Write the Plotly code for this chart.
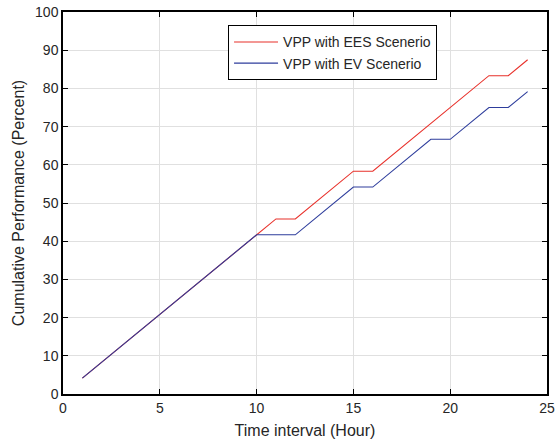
import plotly.graph_objects as go

hours = list(range(1, 25))
ees = [4.17, 8.33, 12.5, 16.67, 20.83, 25.0, 29.17, 33.33, 37.5, 41.67,
       45.83, 45.83, 50.0, 54.17, 58.33, 58.33, 62.5, 66.67, 70.83, 75.0,
       79.17, 83.33, 83.33, 87.5]
ev = [4.17, 8.33, 12.5, 16.67, 20.83, 25.0, 29.17, 33.33, 37.5, 41.67,
      41.67, 41.67, 45.83, 50.0, 54.17, 54.17, 58.33, 62.5, 66.67, 66.67,
      70.83, 75.0, 75.0, 79.17]
names = ["VPP with EES Scenerio", "VPP with EV Scenerio"]
xticks = [0, 5, 10, 15, 20, 25]
yticks = list(range(0, 101, 10))

FONT = "Liberation Sans, Arial"
fig = go.Figure()
fig.add_trace(go.Scatter(x=hours, y=ees, mode="lines", name=names[0],
                         line=dict(color="#e8302a", width=1.1)))
fig.add_trace(go.Scatter(x=hours, y=ev, mode="lines", name=names[1],
                         line=dict(color="#2e3d9c", width=1.1)))

axis_common = dict(showline=True, linecolor="black", linewidth=1.5, mirror="allticks",
                   ticks="inside", ticklen=5, tickcolor="black", tickwidth=1,
                   showgrid=True, gridcolor="#e0e0e0", gridwidth=1, zeroline=False,
                   automargin=False,
                   tickfont=dict(family=FONT, size=14, color="#262626"))
fig.update_xaxes(range=[0, 25], tickvals=xticks,
                 title=dict(text="Time interval (Hour)", standoff=10,
                            font=dict(family=FONT, size=16, color="#262626")),
                 **axis_common)
fig.update_yaxes(range=[0, 100], tickvals=yticks,
                 title=dict(text="Cumulative Performance (Percent)", standoff=6,
                            font=dict(family=FONT, size=16, color="#262626")),
                 **axis_common)
fig.update_layout(
    width=558, height=445,
    margin=dict(l=63, r=11, t=12, b=51),
    plot_bgcolor="white", paper_bgcolor="white",
    legend=dict(x=0.341, y=0.965, xanchor="left", yanchor="top",
                bordercolor="black", borderwidth=1, bgcolor="white",
                font=dict(family=FONT, size=14, color="#262626"),
                tracegroupgap=0, itemwidth=44),
    showlegend=True,
)
fig.write_html("out.html")
